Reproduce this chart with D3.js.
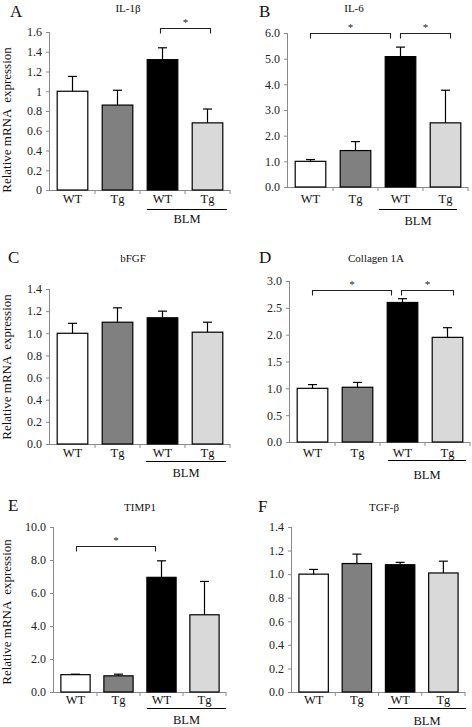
<!DOCTYPE html>
<html><head><meta charset="utf-8">
<script src="https://cdn.jsdelivr.net/npm/d3@7"></script>
<style>
html,body{margin:0;padding:0;background:#fff;}
svg{display:block;font-family:"Liberation Serif","Times New Roman",serif;}
</style></head>
<body><svg id="chart" width="472" height="727"></svg>
<script>
// ---------- data ----------
const categories = ["WT", "Tg", "WT", "Tg"];
const groupLabel = "BLM";
const barColors = ["#ffffff", "#808080", "#000000", "#d9d9d9"];
const panelLetters = ["A", "B", "C", "D", "E", "F"];
const panelTitles = ["IL-1β", "IL-6", "bFGF", "Collagen 1A", "TIMP1", "TGF-β"];
const yLabel = "Relative mRNA  expression";

const meansA = [1.00, 0.86, 1.32, 0.68];
const errA   = [0.15, 0.15, 0.12, 0.14];
const meansB = [1.00, 1.42, 5.08, 2.50];
const errB   = [0.07, 0.35, 0.37, 1.27];
const meansC = [1.00, 1.10, 1.14, 1.01];
const errC   = [0.09, 0.13, 0.06, 0.09];
const meansD = [1.00, 1.02, 2.60, 1.95];
const errD   = [0.07, 0.09, 0.07, 0.18];
const meansE = [1.05, 0.98, 6.95, 4.68];
const errE   = [0.03, 0.10, 1.00, 2.02];
const meansF = [1.00, 1.09, 1.08, 1.01];
const errF   = [0.04, 0.08, 0.02, 0.10];

const ticksA = [0, 0.2, 0.4, 0.6, 0.8, 1, 1.2, 1.4, 1.6];
const tickLabelsA = ["0", "0.2", "0.4", "0.6", "0.8", "1", "1.2", "1.4", "1.6"];
const ticksB = [0, 1, 2, 3, 4, 5, 6];
const tickLabelsB = ["0.0", "1.0", "2.0", "3.0", "4.0", "5.0", "6.0"];
const ticksC = [0, 0.2, 0.4, 0.6, 0.8, 1.0, 1.2, 1.4];
const tickLabelsC = ["0.0", "0.2", "0.4", "0.6", "0.8", "1.0", "1.2", "1.4"];
const ticksD = [0, 0.5, 1.0, 1.5, 2.0, 2.5, 3.0];
const tickLabelsD = ["0.0", "0.5", "1.0", "1.5", "2.0", "2.5", "3.0"];
const ticksE = [0, 2, 4, 6, 8, 10];
const tickLabelsE = ["0.0", "2.0", "4.0", "6.0", "8.0", "10.0"];
const ticksF = [0, 0.2, 0.4, 0.6, 0.8, 1.0, 1.2, 1.4];
const tickLabelsF = ["0.0", "0.2", "0.4", "0.6", "0.8", "1.0", "1.2", "1.4"];

// significance brackets: [from category, to category, level]
const bracketsA = [[2, 3, 1.64]];
const bracketsB = [[0, 2, 6.0], [2, 3, 6.0]];
const bracketsC = [];
const bracketsD = [[0, 2, 2.83], [2, 3, 2.83]];
const bracketsE = [[0, 2, 8.85]];
const bracketsF = [];

// ---------- layout ----------
const panels = [
  {means: meansA, err: errA, ticks: ticksA, labels: tickLabelsA, br: bracketsA, ylab: true,
   x0: 50, x1: 230, yT: 32, yB: 190, lx: 10, ly: 17, tx: 128, ty: 12, ylx: 11, yly: 120,
   lab: 13, line: 19, blm: 33, lineX: [147, 227], brIns: [[-2, 3]]},
  {means: meansB, err: errB, ticks: ticksB, labels: tickLabelsB, br: bracketsB, ylab: false,
   x0: 288, x1: 468, yT: 33, yB: 187, lx: 259, ly: 17, tx: 354, ty: 12,
   lab: 16, line: 22, blm: 38, lineX: [379, 457], brIns: [[0, -10], [0, 5]]},
  {means: meansC, err: errC, ticks: ticksC, labels: tickLabelsC, br: bracketsC, ylab: true,
   x0: 50, x1: 230, yT: 289, yB: 444, lx: 8, ly: 263, tx: 133, ty: 262, ylx: 11, yly: 367,
   lab: 13, line: 17, blm: 33, lineX: [146, 226], brIns: []},
  {means: meansD, err: errD, ticks: ticksD, labels: tickLabelsD, br: bracketsD, ylab: false,
   x0: 290, x1: 470, yT: 281, yB: 442, lx: 259, ly: 263, tx: 376, ty: 262,
   lab: 15, line: 18, blm: 37, lineX: [388, 466], brIns: [[0, -11], [-1, 6]]},
  {means: meansE, err: errE, ticks: ticksE, labels: tickLabelsE, br: bracketsE, ylab: true,
   x0: 54, x1: 226, yT: 527, yB: 692, lx: 8, ly: 511, tx: 140, ty: 511, ylx: 11, yly: 612,
   lab: 12, line: 16, blm: 32, lineX: [147, 226], brIns: [[1, -6]]},
  {means: meansF, err: errF, ticks: ticksF, labels: tickLabelsF, br: bracketsF, ylab: false,
   x0: 292, x1: 465, yT: 527, yB: 692, lx: 258, ly: 512, tx: 384, ty: 511,
   lab: 12, line: 16, blm: 33, lineX: [388, 466], brIns: []}
];

const svg = d3.select("#chart");
const axisColor = "#8a8a8a";

panels.forEach((p, pi) => {
  const g = svg.append("g");
  const x = d3.scaleBand().domain(d3.range(categories.length)).range([p.x0, p.x1]).paddingInner(0.32).paddingOuter(0.16);
  const xb = d3.scaleBand().domain(d3.range(categories.length)).range([p.x0, p.x1]);
  const ymax = p.ticks[p.ticks.length - 1];
  const y = d3.scaleLinear().domain([0, ymax]).range([p.yB, p.yT]);

  // y axis
  const ya = d3.axisLeft(y).tickValues(p.ticks).tickSize(4).tickPadding(4)
    .tickFormat((d, i) => p.labels[i]);
  const yg = g.append("g").attr("transform", `translate(${p.x0},0)`).call(ya);
  yg.select(".domain").attr("stroke", axisColor).attr("d", `M-0.5,${p.yT}V${p.yB}`);
  yg.selectAll(".tick line").attr("stroke", axisColor);
  yg.selectAll(".tick text").attr("fill", "#222").style("font-size", "12px")
    .style("font-family", "'Liberation Serif', serif");

  // x axis line + boundary ticks
  g.append("line").attr("x1", p.x0).attr("x2", p.x1).attr("y1", p.yB + 0.5).attr("y2", p.yB + 0.5)
    .attr("stroke", axisColor);
  const bounds = d3.range(1, categories.length + 1).map(i => p.x0 + i * xb.bandwidth());
  g.selectAll(".xt").data(bounds).join("line")
    .attr("x1", d => d).attr("x2", d => d).attr("y1", p.yB).attr("y2", p.yB + 4)
    .attr("stroke", axisColor);

  // bars
  g.selectAll(".bar").data(p.means).join("rect")
    .attr("x", (d, i) => x(i)).attr("width", x.bandwidth())
    .attr("y", d => y(d)).attr("height", d => y(0) - y(d))
    .attr("fill", (d, i) => barColors[i]).attr("stroke", "#000").attr("stroke-width", 1.2);

  // error bars (upper only)
  p.means.forEach((m, i) => {
    const cx = x(i) + x.bandwidth() / 2;
    const top = y(m + p.err[i]);
    g.append("line").attr("x1", cx).attr("x2", cx).attr("y1", y(m)).attr("y2", top)
      .attr("stroke", "#000").attr("stroke-width", 1.2);
    g.append("line").attr("x1", cx - 4.5).attr("x2", cx + 4.5).attr("y1", top).attr("y2", top)
      .attr("stroke", "#000").attr("stroke-width", 1.2);
  });

  // category labels
  g.selectAll(".cl").data(categories).join("text")
    .attr("x", (d, i) => x(i) + x.bandwidth() / 2).attr("y", p.yB + p.lab)
    .attr("text-anchor", "middle").style("font-size", "12.5px").attr("fill", "#111").text(d => d);

  // BLM group line and label
  g.append("line").attr("x1", p.lineX[0]).attr("x2", p.lineX[1])
    .attr("y1", p.yB + p.line + 0.5).attr("y2", p.yB + p.line + 0.5).attr("stroke", "#000").attr("stroke-width", 1);
  g.append("text").attr("x", (p.lineX[0] + p.lineX[1]) / 2).attr("y", p.yB + p.blm)
    .attr("text-anchor", "middle").style("font-size", "12.5px").attr("fill", "#111").text(groupLabel);

  // brackets
  p.br.forEach((b, bi) => {
    const ins = p.brIns[bi] || [0, 0];
    const xa = x(b[0]) + x.bandwidth() / 2 + ins[0];
    const xc = x(b[1]) + x.bandwidth() / 2 + ins[1];
    const yy = Math.round(y(b[2])) + 0.5;
    g.append("path").attr("d", `M${xa},${yy + 5}V${yy}H${xc}V${yy + 5}`)
      .attr("fill", "none").attr("stroke", "#222").attr("stroke-width", 1.1);
    g.append("text").attr("x", (xa + xc) / 2).attr("y", yy - 3)
      .attr("text-anchor", "middle").style("font-size", "11px").attr("fill", "#222").text("*");
  });

  // title, letter
  g.append("text").attr("x", p.tx).attr("y", p.ty).attr("text-anchor", "middle")
    .style("font-size", "11px").attr("fill", "#111").text(panelTitles[pi]);
  g.append("text").attr("x", p.lx).attr("y", p.ly)
    .style("font-size", "17px").attr("fill", "#111").text(panelLetters[pi]);

  // y label
  if (p.ylab) {
    g.append("text").attr("transform", `translate(${p.ylx},${p.yly}) rotate(-90)`)
      .attr("text-anchor", "middle").style("font-size", "13px").style("white-space", "pre")
      .attr("fill", "#111").text(yLabel);
  }
});
</script>
</body></html>
